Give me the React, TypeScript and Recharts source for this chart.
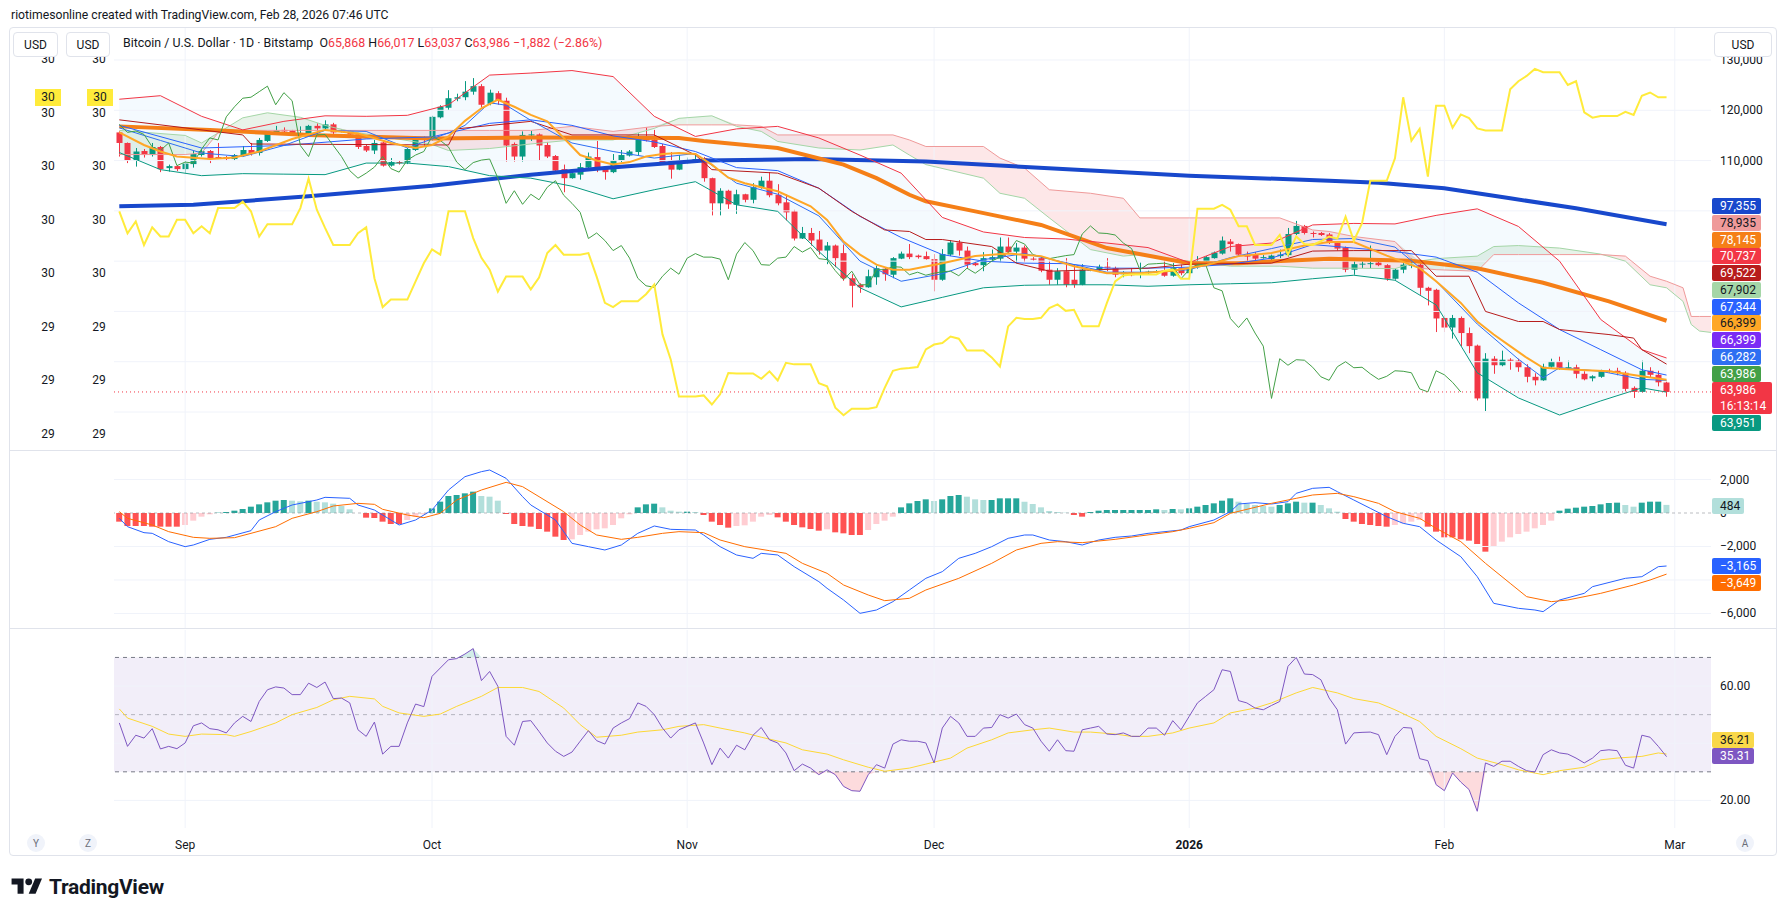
import React from 'react'
import { ComposedChart, Line, Bar, Area, XAxis, YAxis, ReferenceLine, ReferenceArea, Cell } from 'recharts'

// BTC/USD daily, Aug 24 2025 .. Feb 28 2026 (index 0 = Aug 24), prices in thousands USD
const OPEN_K = [
  115.6, 113.5, 110.0, 111.9, 111.1, 112.7, 108.5, 108.9, 108.3, 109.3,
  111.1, 111.9, 110.7, 110.7, 110.3, 111.0, 112.1, 111.5, 113.9, 115.6,
  116.1, 115.9, 115.4, 115.4, 116.9, 116.4, 117.2, 115.8, 115.8, 115.2,
  112.9, 112.0, 113.6, 109.0, 109.7, 109.6, 112.1, 114.5, 114.1, 118.6,
  120.5, 122.3, 122.6, 123.7, 124.8, 121.3, 123.4, 121.9, 113.3, 110.8,
  115.1, 115.2, 113.1, 110.9, 108.3, 106.5, 107.2, 108.6, 110.7, 108.4,
  107.7, 110.0, 111.0, 111.7, 114.7, 114.1, 112.9, 110.1, 108.2, 109.5,
  110.1, 110.5, 106.5, 101.5, 104.0, 101.2, 103.3, 102.2, 104.7, 106.0,
  103.2, 101.7, 99.9, 94.5, 95.6, 94.3, 92.1, 93.1, 91.6, 86.6,
  85.3, 84.8, 86.8, 88.5, 87.3, 90.5, 91.5, 91.1, 91.0, 90.4,
  86.3, 91.3, 93.7, 92.1, 89.6, 89.2, 90.3, 90.5, 92.9, 91.9,
  92.7, 90.5, 90.6, 88.3, 86.3, 88.0, 86.3, 85.3, 88.2, 88.3,
  88.9, 88.6, 87.4, 87.8, 87.3, 87.6, 87.9, 88.1, 87.1, 88.6,
  87.6, 88.8, 90.0, 90.6, 91.5, 93.9, 93.4, 91.3, 91.3, 90.7,
  90.4, 91.0, 91.2, 95.4, 97.0, 95.6, 95.6, 95.3, 93.6, 92.7,
  88.3, 89.4, 89.5, 89.7, 89.2, 86.5, 88.3, 89.2, 89.3, 84.7,
  84.3, 78.7, 76.8, 78.7, 75.7, 73.2, 62.7, 70.6, 69.3, 70.4,
  70.2, 68.9, 67.0, 66.3, 69.0, 70.0, 68.8, 68.9, 67.6, 66.7,
  67.0, 68.2, 68.2, 67.8, 64.8, 64.0, 68.2, 67.4, 65.868,
]
const HIGH_K = [
  115.8, 113.6, 112.5, 112.3, 113.5, 112.9, 109.2, 109.1, 110.0, 111.9,
  112.3, 112.1, 113.5, 110.9, 111.3, 112.9, 113.5, 114.5, 115.9, 116.9,
  116.6, 116.1, 116.8, 117.1, 117.4, 118.0, 117.5, 116.2, 116.0, 115.4,
  113.2, 114.1, 113.8, 110.5, 110.0, 112.5, 114.7, 114.8, 118.9, 121.0,
  124.0, 123.3, 125.8, 126.4, 125.2, 124.1, 123.8, 122.5, 113.6, 115.8,
  115.9, 115.4, 113.7, 111.1, 109.2, 107.7, 109.5, 111.6, 113.9, 108.9,
  111.3, 112.1, 112.1, 115.4, 116.6, 116.1, 113.3, 111.7, 111.1, 110.6,
  111.1, 110.7, 106.6, 104.5, 104.2, 104.2, 103.4, 105.5, 106.8, 107.7,
  105.3, 103.3, 100.2, 96.8, 96.6, 96.0, 93.8, 93.3, 93.3, 87.4,
  85.6, 88.3, 89.1, 88.8, 90.8, 91.9, 93.4, 91.3, 91.9, 91.4,
  92.4, 94.2, 94.2, 92.9, 89.9, 91.8, 92.3, 94.7, 94.7, 93.6,
  93.1, 90.8, 90.8, 90.1, 88.6, 90.6, 89.4, 89.4, 88.5, 89.3,
  90.6, 88.9, 88.0, 88.6, 89.7, 88.1, 88.2, 90.1, 89.6, 89.3,
  89.6, 91.0, 91.0, 91.9, 94.9, 94.4, 93.5, 91.9, 91.8, 91.2,
  91.3, 92.3, 96.6, 98.0, 97.2, 95.9, 95.8, 95.6, 93.8, 92.9,
  90.6, 90.5, 93.1, 89.9, 89.4, 88.6, 89.6, 90.5, 89.5, 84.9,
  84.5, 79.3, 79.3, 79.0, 76.8, 73.4, 71.7, 71.1, 72.2, 70.7,
  70.6, 69.5, 67.7, 69.6, 70.6, 71.0, 70.2, 69.4, 68.1, 67.3,
  68.4, 68.6, 68.8, 68.1, 65.1, 70.2, 68.9, 68.2, 66.017,
]
const LOW_K = [
  110.8, 109.5, 108.8, 110.6, 110.8, 107.7, 107.8, 107.9, 107.5, 108.6,
  110.8, 109.5, 110.3, 110.0, 110.0, 110.8, 111.0, 111.0, 113.7, 115.1,
  115.3, 115.2, 114.6, 115.1, 115.1, 116.1, 115.3, 115.6, 114.9, 112.3,
  111.7, 111.3, 108.8, 108.8, 109.2, 109.3, 111.9, 112.8, 113.9, 118.4,
  120.1, 121.8, 122.0, 123.1, 120.6, 121.0, 121.1, 109.8, 109.8, 109.8,
  113.9, 110.1, 110.5, 107.5, 103.7, 106.4, 106.2, 108.2, 107.7, 106.2,
  107.5, 109.7, 110.8, 111.1, 113.8, 112.5, 109.3, 106.4, 108.1, 109.3,
  109.8, 105.8, 99.1, 99.1, 100.4, 99.4, 101.7, 101.5, 104.4, 102.7,
  101.1, 98.1, 94.1, 94.4, 93.1, 91.3, 89.4, 88.8, 86.1, 80.8,
  83.7, 84.7, 85.3, 86.1, 86.6, 90.4, 90.4, 90.5, 90.3, 84.0,
  86.1, 91.0, 91.1, 88.5, 89.0, 88.0, 90.0, 89.8, 91.6, 89.6,
  89.8, 90.1, 87.8, 85.3, 85.3, 84.8, 84.7, 85.2, 88.0, 87.8,
  88.0, 86.8, 86.8, 87.0, 86.6, 87.4, 87.7, 86.9, 86.9, 87.2,
  87.3, 88.5, 89.6, 90.5, 91.3, 91.9, 90.9, 89.4, 89.6, 90.5,
  90.2, 90.6, 90.9, 95.2, 95.3, 94.7, 95.0, 93.4, 92.1, 87.8,
  87.3, 88.6, 88.6, 89.0, 86.1, 86.3, 87.6, 88.6, 83.3, 81.2,
  75.9, 75.9, 74.6, 73.1, 71.7, 62.3, 60.2, 67.6, 69.1, 68.4,
  68.0, 65.9, 65.3, 66.2, 68.8, 68.4, 68.4, 66.7, 66.3, 66.1,
  66.8, 67.8, 67.3, 64.1, 62.8, 63.9, 66.9, 65.1, 63.037,
]
const CLOSE_K = [
  113.5, 110.0, 111.8, 111.1, 112.7, 108.3, 108.9, 108.3, 109.4, 111.3,
  111.9, 110.5, 110.5, 110.3, 111.1, 112.1, 111.3, 114.1, 115.6, 116.0,
  115.8, 115.4, 115.5, 116.9, 116.4, 117.2, 115.6, 115.9, 115.2, 112.7,
  112.0, 113.5, 109.0, 109.7, 109.5, 112.3, 114.5, 114.1, 118.7, 120.7,
  122.4, 122.6, 123.7, 124.8, 121.1, 123.5, 121.9, 113.0, 110.8, 115.1,
  115.2, 113.0, 110.8, 108.0, 106.5, 107.5, 108.7, 110.8, 108.4, 107.7,
  110.1, 111.1, 111.8, 114.8, 114.0, 112.7, 109.7, 108.2, 109.6, 110.1,
  110.3, 106.5, 101.5, 104.0, 101.3, 103.3, 102.2, 104.7, 106.0, 103.1,
  101.5, 99.7, 94.5, 95.6, 94.1, 92.1, 93.1, 90.6, 86.6, 85.1,
  84.8, 87.0, 88.6, 87.4, 90.6, 91.5, 90.8, 90.8, 90.4, 86.3,
  91.4, 93.7, 92.1, 89.3, 89.2, 90.6, 90.8, 92.9, 91.8, 92.7,
  90.5, 90.3, 88.1, 86.3, 88.0, 85.3, 85.3, 88.3, 88.3, 88.9,
  88.8, 87.3, 87.8, 87.2, 87.6, 87.9, 88.0, 87.1, 88.6, 87.6,
  88.8, 90.0, 90.8, 91.7, 94.1, 93.4, 91.3, 90.9, 90.5, 90.8,
  91.1, 91.3, 95.4, 97.0, 95.6, 95.5, 95.2, 93.6, 92.5, 88.3,
  89.4, 89.5, 89.6, 89.2, 86.5, 88.3, 89.3, 89.3, 84.7, 84.1,
  78.6, 76.8, 78.7, 75.7, 73.1, 62.7, 70.6, 69.3, 70.4, 70.3,
  68.9, 67.0, 66.3, 69.0, 70.0, 68.8, 68.9, 67.6, 66.5, 67.1,
  68.2, 68.1, 67.8, 64.6, 64.0, 68.2, 67.4, 65.9, 63.986,
]

// second series drawn on the left scale
const YELLOW = [
  29.616, 29.575, 29.597, 29.553, 29.586, 29.569, 29.569, 29.6, 29.6, 29.575,
  29.588, 29.575, 29.622, 29.622, 29.622, 29.634, 29.616, 29.569, 29.592, 29.592,
  29.592, 29.592, 29.622, 29.677, 29.619, 29.585, 29.553, 29.553, 29.553, 29.575,
  29.586, 29.491, 29.437, 29.451, 29.451, 29.451, 29.485, 29.519, 29.545, 29.535,
  29.616, 29.616, 29.616, 29.566, 29.529, 29.507, 29.466, 29.494, 29.494, 29.494,
  29.47, 29.492, 29.538, 29.553, 29.535, 29.535, 29.535, 29.538, 29.494, 29.445,
  29.437, 29.448, 29.448, 29.448, 29.461, 29.479, 29.386, 29.339, 29.27, 29.27,
  29.27, 29.272, 29.255, 29.274, 29.314, 29.313, 29.313, 29.313, 29.303, 29.317,
  29.3, 29.333, 29.33, 29.33, 29.33, 29.295, 29.289, 29.249, 29.235, 29.247,
  29.247, 29.247, 29.25, 29.286, 29.318, 29.322, 29.323, 29.325, 29.358, 29.367,
  29.37, 29.382, 29.378, 29.356, 29.356, 29.356, 29.343, 29.326, 29.401, 29.417,
  29.415, 29.415, 29.417, 29.435, 29.442, 29.43, 29.432, 29.401, 29.401, 29.401,
  29.445, 29.485, 29.496, 29.498, 29.498, 29.498, 29.498, 29.505, 29.507, 29.49,
  29.49, 29.621, 29.621, 29.621, 29.628, 29.619, 29.588, 29.588, 29.553, 29.553,
  29.553, 29.572, 29.535, 29.569, 29.555, 29.553, 29.56, 29.569, 29.565, 29.606,
  29.561, 29.594, 29.673, 29.673, 29.673, 29.715, 29.829, 29.748, 29.77, 29.681,
  29.813, 29.813, 29.772, 29.797, 29.79, 29.771, 29.767, 29.767, 29.767, 29.844,
  29.859, 29.869, 29.882, 29.876, 29.876, 29.876, 29.852, 29.859, 29.801, 29.791,
  29.794, 29.794, 29.794, 29.802, 29.796, 29.832, 29.838, 29.829, 29.829,
]

// Bollinger bands (k USD)
const BB_DAYS = [0, 5, 10, 15, 20, 25, 30, 35, 40, 45, 50, 55, 60, 65, 70, 75, 80, 85, 90, 95, 100, 105, 110, 115, 120, 125, 130, 135, 140, 145, 150, 155, 160, 165, 170, 175, 180, 185, 188]
const BB_UPPER_K = [122.2, 122.9, 118.8, 116.1, 117.8, 118.9, 118.8, 119.0, 121.1, 127.0, 127.4, 127.9, 126.7, 118.8, 114.8, 116.3, 116.8, 114.5, 111.1, 107.5, 98.7, 95.8, 94.7, 94.4, 93.6, 92.7, 89.7, 92.9, 93.6, 97.2, 97.5, 97.4, 99.1, 100.4, 96.9, 90.0, 78.4, 72.4, 70.737]
const BB_LOWER_K = [111.6, 108.2, 107.0, 107.4, 107.3, 107.2, 109.5, 109.5, 108.8, 107.0, 106.5, 104.9, 102.4, 104.2, 105.8, 101.2, 99.9, 91.9, 84.7, 80.9, 82.8, 84.7, 85.2, 85.3, 85.3, 85.0, 85.3, 85.5, 85.7, 86.5, 87.2, 86.2, 81.3, 67.8, 62.8, 59.4, 62.2, 64.8, 63.951]
const BASIS_DAYS = [0, 10, 20, 30, 38, 45, 50, 55, 60, 65, 70, 75, 80, 85, 90, 95, 100, 105, 110, 115, 120, 125, 130, 135, 140, 145, 150, 155, 160, 165, 170, 175, 180, 185, 188]
const BASIS_K = [117.0, 112.5, 113.0, 114.3, 114.7, 117.4, 118.1, 117.0, 114.9, 113.7, 111.8, 108.6, 108.0, 104.5, 98.9, 94.7, 91.3, 90.0, 89.6, 89.5, 88.6, 88.6, 88.8, 89.4, 90.6, 93.3, 92.6, 91.9, 90.8, 87.8, 81.7, 76.4, 72.4, 68.4, 67.344]

// Ichimoku
const TENKAN_DAYS = [0, 5, 10, 15, 20, 25, 30, 35, 40, 42, 45, 47, 50, 55, 60, 65, 70, 75, 80, 85, 90, 95, 100, 105, 110, 115, 120, 125, 130, 135, 140, 145, 150, 155, 160, 165, 170, 173, 175, 180, 185, 188]
const TENKAN_K = [116.5, 114.0, 111.5, 110.8, 113.0, 116.0, 115.8, 112.5, 115.5, 117.0, 121.5, 121.0, 118.0, 113.5, 111.8, 110.5, 111.4, 105.5, 103.3, 99.0, 90.0, 86.0, 87.5, 90.3, 91.5, 89.7, 87.8, 87.8, 88.3, 90.7, 92.5, 94.3, 94.5, 92.8, 86.0, 77.5, 70.5, 66.8, 68.8, 68.1, 66.5, 66.282]
const KIJUN_DAYS = [0, 15, 16, 40, 41, 50, 55, 65, 70, 72, 80, 85, 89, 93, 96, 98, 100, 106, 109, 113, 125, 130, 140, 145, 150, 157, 160, 164, 166, 170, 173, 175, 181, 184, 185, 188]
const KIJUN_K = [118.1, 115.1, 113.3, 113.1, 116.3, 117.8, 115.1, 115.1, 111.1, 108.2, 107.5, 104.5, 99.9, 96.2, 95.9, 94.3, 94.3, 92.9, 89.6, 88.0, 88.6, 89.4, 89.6, 92.0, 92.1, 92.1, 87.0, 87.0, 80.0, 78.0, 78.0, 76.4, 75.4, 74.7, 72.4, 69.522]
const SPAN_DAYS = [0, 8, 10, 12, 15, 18, 22, 25, 28, 38, 40, 45, 50, 55, 60, 65, 68, 72, 75, 78, 80, 85, 90, 94, 96, 98, 105, 107, 110, 113, 118, 122, 124, 130, 135, 141, 145, 147, 150, 155, 158, 160, 165, 167, 170, 175, 180, 183, 186, 188, 190, 191, 192, 194, 213]
const SPAN_A_K = [116.0, 115.0, 113.5, 115.5, 118.5, 119.5, 118.6, 117.0, 115.8, 113.2, 112.0, 112.4, 113.3, 114.1, 114.1, 116.4, 118.4, 118.9, 116.8, 115.8, 113.8, 112.5, 112.1, 113.1, 111.1, 109.2, 106.5, 103.5, 102.5, 98.6, 92.3, 91.0, 91.3, 90.0, 89.0, 89.0, 88.6, 88.6, 88.6, 88.5, 90.0, 90.5, 91.0, 92.9, 93.1, 92.6, 91.4, 90.0, 85.3, 84.7, 82.0, 77.4, 76.1, 75.7, 67.902]
const SPAN_B_K = [111.2, 111.2, 111.5, 115.5, 116.0, 116.0, 116.0, 116.0, 116.0, 116.0, 116.0, 116.0, 116.0, 116.8, 115.8, 116.8, 117.1, 117.1, 117.1, 116.8, 115.1, 115.1, 115.1, 115.1, 114.1, 112.8, 112.8, 110.5, 108.5, 104.2, 103.5, 102.5, 98.6, 98.6, 98.6, 98.6, 96.2, 95.9, 94.9, 93.9, 88.6, 88.3, 88.0, 91.3, 91.3, 91.3, 91.3, 91.0, 87.0, 86.0, 84.7, 79.0, 79.0, 79.0, 78.935]
const LAG_SHIFT = 25

// moving averages
const MA200_DAYS = [0, 9, 23, 38, 50, 59, 71, 84, 98, 130, 147, 153, 161, 169, 177, 188]
const MA200_K = [100.9, 101.2, 102.9, 105.0, 107.2, 108.5, 110.0, 110.3, 109.8, 107.0, 106.0, 105.6, 104.5, 102.5, 100.5, 97.355]
const MA50_DAYS = [0, 11, 23, 38, 50, 68, 71, 80, 88, 92, 96, 98, 104, 112, 120, 130, 136, 147, 157, 165, 173, 181, 188]
const MA50_K = [116.8, 116.1, 115.1, 114.4, 114.6, 114.5, 113.9, 112.5, 109.2, 106.5, 103.2, 101.9, 99.9, 97.2, 92.6, 89.6, 89.6, 90.5, 90.1, 88.6, 85.7, 82.0, 78.145]
const EMA_DAYS = [0, 3, 5, 7, 11, 14, 17, 21, 25, 29, 33, 36, 38, 40, 42, 44, 46, 48, 50, 52, 54, 56, 58, 60, 62, 64, 66, 68, 70, 72, 74, 76, 80, 84, 86, 88, 90, 92, 94, 96, 100, 104, 108, 112, 116, 120, 124, 128, 132, 136, 140, 144, 147, 150, 154, 158, 160, 163, 165, 167, 169, 171, 173, 177, 181, 185, 188]
const EMA_K = [115.6, 113.1, 111.8, 110.8, 110.3, 110.6, 111.8, 114.3, 116.1, 115.4, 113.5, 112.5, 113.1, 114.8, 117.9, 120.4, 122.1, 120.7, 119.1, 117.8, 114.5, 111.1, 110.0, 109.2, 109.7, 110.8, 111.3, 111.5, 111.3, 109.2, 106.6, 105.5, 103.9, 100.9, 98.2, 93.9, 91.3, 89.3, 88.3, 88.3, 89.6, 91.0, 91.5, 91.0, 89.0, 87.6, 87.6, 88.1, 89.2, 91.0, 91.6, 93.1, 93.8, 93.8, 91.1, 88.6, 86.0, 81.7, 78.0, 75.4, 73.1, 70.8, 68.8, 68.4, 68.1, 67.1, 66.399]

// MACD (12, 26, 9)
const MACD_HIST = [
  -517, -776, -776, -776, -816, -816, -816, -816, -716, -458,
  -219, -80, 20, 60, 139, 239, 378, 517, 637, 736,
  776, 736, 697, 736, 677, 637, 557, 418, 219, 0,
  -279, -299, -517, -657, -657, -418, -219, -80, 279, 677,
  1015, 1075, 1174, 1274, 1015, 975, 736, -60, -657, -776,
  -816, -955, -1114, -1413, -1612, -1572, -1313, -1114, -975, -915,
  -716, -318, -80, 338, 517, 557, 338, 139, 80, 80,
  60, -119, -517, -716, -876, -776, -736, -517, -219, -119,
  -259, -517, -716, -856, -955, -1055, -975, -1154, -1214, -1313,
  -1313, -1015, -657, -458, -219, 338, 577, 716, 816, 716,
  816, 1015, 1075, 975, 816, 776, 776, 876, 876, 876,
  677, 537, 338, 119, 60, 20, -119, -219, 60, 139,
  179, 179, 179, 179, 179, 179, 219, 179, 239, 219,
  279, 378, 478, 577, 736, 876, 677, 537, 478, 418,
  378, 478, 577, 677, 617, 617, 478, 279, 80, -358,
  -517, -657, -716, -776, -816, -716, -617, -517, -418, -816,
  -1114, -1453, -1453, -1572, -1652, -1851, -2308, -2010, -1711, -1453,
  -1254, -1114, -915, -716, -458, 139, 259, 318, 378, 418,
  517, 597, 617, 478, 378, 617, 677, 677, 484,
]
const MACD_DAYS = [0, 1, 3, 4, 6, 8, 9, 11, 13, 16, 17, 19, 21, 24, 25, 28, 29, 31, 33, 34, 36, 38, 40, 42, 44, 45, 47, 49, 50, 53, 55, 57, 59, 61, 63, 65, 67, 70, 71, 73, 75, 77, 78, 80, 82, 85, 86, 88, 90, 92, 94, 96, 98, 100, 102, 104, 106, 108, 110, 111, 113, 115, 117, 119, 121, 123, 125, 129, 130, 133, 135, 136, 138, 140, 142, 143, 145, 147, 148, 150, 152, 154, 156, 158, 160, 163, 165, 167, 170, 172, 173, 175, 178, 179, 183, 185, 187, 188]
const MACD_LINE = [-320, -816, -1174, -1214, -1711, -2010, -1910, -1572, -1453, -1055, -418, 80, 478, 776, 935, 876, 478, 179, -418, -716, -418, 179, 1373, 2169, 2468, 2567, 2070, 975, 478, -418, -1811, -2010, -2209, -1910, -1214, -776, -975, -1015, -1313, -2010, -2507, -2706, -2408, -2507, -3204, -4099, -4497, -5194, -5990, -5791, -5293, -4597, -3900, -3502, -2706, -2408, -2010, -1512, -1313, -1313, -1612, -1711, -1910, -1612, -1453, -1373, -1214, -1015, -816, -418, 80, 537, 617, 537, 677, 1174, 1473, 1532, 1274, 776, 279, -219, -617, -816, -1612, -2607, -3801, -5393, -5691, -5791, -5890, -5194, -4796, -4398, -3900, -3801, -3204, -3165]
const SIGNAL_DAYS = [0, 1, 4, 6, 9, 11, 14, 16, 19, 21, 24, 26, 29, 31, 32, 35, 37, 39, 41, 44, 47, 49, 51, 54, 56, 58, 61, 63, 66, 68, 71, 73, 76, 79, 81, 83, 86, 88, 91, 93, 96, 98, 102, 106, 109, 112, 114, 117, 121, 124, 128, 130, 133, 135, 138, 140, 143, 145, 148, 150, 153, 155, 158, 160, 163, 166, 169, 171, 174, 176, 180, 184, 186, 188]
const SIGNAL_LINE = [80, -318, -716, -1114, -1453, -1512, -1473, -1214, -816, -318, 80, 418, 577, 517, 219, -119, -279, -20, 776, 1373, 1831, 1572, 975, 80, -716, -1313, -1572, -1453, -1214, -1114, -1174, -1612, -2010, -2249, -2408, -3005, -3602, -4298, -4895, -5234, -5094, -4597, -3900, -3005, -2209, -1811, -1711, -1771, -1572, -1373, -1114, -915, -577, -20, 338, 577, 876, 1075, 1174, 975, 577, 80, -318, -915, -1711, -3005, -4199, -4995, -5293, -5194, -4796, -4298, -4000, -3649]

// RSI (14) and its moving average
const RSI = [
  47.1, 38.9, 42.8, 41.8, 45.1, 38.0, 38.9, 38.1, 40.1, 46.1,
  47.1, 45.1, 44.7, 43.6, 47.1, 49.4, 47.6, 54.6, 58.7, 59.7,
  59.3, 57.0, 57.0, 61.0, 59.5, 61.4, 55.6, 55.8, 54.1, 44.7,
  42.4, 47.4, 36.2, 38.9, 38.9, 47.1, 53.7, 52.8, 63.4, 66.3,
  69.2, 69.6, 71.2, 73.1, 61.9, 65.1, 59.9, 42.4, 39.3, 47.6,
  47.9, 44.1, 40.1, 37.2, 35.4, 36.9, 40.7, 44.4, 40.9, 39.7,
  45.3, 47.1, 48.6, 54.1, 52.9, 50.0, 45.3, 41.8, 44.7, 45.9,
  47.1, 40.1, 32.5, 38.3, 34.8, 39.3, 37.7, 42.8, 45.5, 41.2,
  40.1, 36.6, 30.4, 32.7, 31.3, 29.0, 30.7, 29.0, 24.9, 23.4,
  23.2, 29.0, 32.5, 31.3, 39.7, 41.2, 40.7, 40.7, 40.1, 33.1,
  45.3, 49.4, 47.1, 42.4, 42.4, 45.3, 45.5, 50.0, 48.8, 50.2,
  46.5, 45.3, 40.7, 37.2, 41.2, 37.4, 37.2, 44.7, 45.3, 45.9,
  43.2, 43.0, 43.6, 42.4, 42.4, 45.3, 45.3, 42.8, 47.9, 44.7,
  49.4, 54.1, 56.4, 58.7, 65.7, 65.1, 54.9, 54.1, 52.3, 51.7,
  53.2, 54.6, 66.9, 70.0, 64.2, 64.0, 62.2, 55.8, 51.7, 39.7,
  43.6, 43.8, 43.9, 43.0, 36.0, 42.4, 45.5, 45.3, 34.6, 33.9,
  25.5, 23.4, 29.6, 26.4, 23.8, 16.2, 33.1, 31.9, 33.7, 33.7,
  31.9, 30.4, 29.9, 36.0, 37.7, 36.6, 36.2, 34.8, 33.1, 34.8,
  37.4, 37.7, 37.4, 32.3, 31.3, 42.8, 42.1, 38.9, 35.31,
]
const RSI_MA_DAYS = [0, 1, 4, 6, 8, 10, 13, 14, 16, 19, 21, 24, 26, 28, 31, 32, 34, 37, 39, 41, 44, 46, 49, 51, 54, 56, 58, 61, 63, 66, 68, 71, 73, 76, 78, 81, 83, 86, 88, 91, 93, 96, 98, 101, 103, 106, 108, 111, 113, 116, 118, 121, 123, 125, 128, 130, 133, 135, 138, 140, 143, 145, 148, 150, 153, 155, 158, 160, 163, 165, 168, 170, 173, 175, 178, 180, 182, 185, 187, 188]
const RSI_MA = [52.0, 48.8, 45.9, 43.2, 42.4, 43.2, 43.0, 42.4, 44.1, 47.1, 50.0, 52.5, 55.2, 56.4, 55.5, 52.9, 50.6, 49.4, 50.2, 52.9, 56.4, 59.5, 59.5, 58.1, 52.3, 46.5, 42.1, 42.8, 43.9, 44.7, 45.9, 46.5, 45.3, 43.6, 42.1, 40.1, 37.7, 36.2, 34.2, 31.6, 30.2, 31.3, 32.7, 34.8, 38.3, 41.2, 43.6, 44.7, 45.3, 43.9, 43.9, 43.2, 42.4, 42.4, 43.6, 45.3, 47.1, 50.6, 52.3, 54.1, 57.6, 59.5, 57.6, 55.6, 54.1, 51.7, 47.6, 42.4, 38.1, 34.8, 32.5, 30.7, 29.0, 30.4, 31.6, 34.2, 34.8, 35.4, 36.6, 36.21]

// axes
const MONTH_TICKS = [8, 38, 69, 99, 130, 161, 189]
const MONTH_LABELS = ['Sep', 'Oct', 'Nov', 'Dec', '2026', 'Feb', 'Mar']
const PRICE_GRID = [60000, 70000, 80000, 90000, 100000, 110000, 120000, 130000]
const PRICE_LABELED = [110000, 120000, 130000]
const LEFT_TICKS = [29.2, 29.3, 29.4, 29.5, 29.6, 29.7, 29.8, 29.9]
const MACD_GRID = [2000, -2000, -4000, -6000]
const MACD_LABELED = [2000, 0, -2000, -6000]
const RSI_GRID = [60, 40, 20]
const RSI_LABELED = [60, 20]

const X_DOMAIN: [number, number] = [-0.644, 193.4]
const PRICE_DOMAIN: [number, number] = [52444, 136363]
const LEFT_DOMAIN: [number, number] = [29.17, 29.9585]
const MACD_DOMAIN: [number, number] = [-6866, 3642]
const RSI_DOMAIN: [number, number] = [10.35, 79.6]

const FONT = 'Roboto, "Noto Sans", Arial, sans-serif'
const TEXT = '#131722'
const GRID = '#f0f3fa'
const UP = '#089981'
const DOWN = '#f23645'

const k = (v: number) => Math.round(v * 1000)
const series = (days: number[], vals: number[], scale = 1) => days.map((d, i) => ({ d, v: vals[i] * scale }))

const candles = CLOSE_K.map((c, i) => ({
  d: i,
  o: k(OPEN_K[i]),
  h: k(HIGH_K[i]),
  l: k(LOW_K[i]),
  c: k(c),
  range: [k(LOW_K[i]), k(HIGH_K[i])],
}))
const lastClose = candles[candles.length - 1].c

const bbRows = BB_DAYS.map((d, i) => ({ d, up: k(BB_UPPER_K[i]), lo: k(BB_LOWER_K[i]), band: [k(BB_LOWER_K[i]), k(BB_UPPER_K[i])] }))
const cloudRows = SPAN_DAYS.map((d, i) => {
  const a = k(SPAN_A_K[i])
  const b = k(SPAN_B_K[i])
  const top = Math.max(a, b)
  return { d, a, b, green: [b, top], pink: [a, top] }
})
const lagging = CLOSE_K.slice(LAG_SHIFT).map((c, i) => ({ d: i, v: k(c) }))
const yellowRows = YELLOW.map((v, i) => ({ d: i, v }))
const histRows = MACD_HIST.map((v, i) => ({ d: i, v }))
const rsiRows = RSI.map((v, i) => ({ d: i, v, os: [Math.min(v, 30), 30], ob: [70, Math.max(v, 70)] }))

const histColor = (i: number) => {
  const v = MACD_HIST[i]
  const prev = i > 0 ? MACD_HIST[i - 1] : v
  if (v >= 0) return v >= prev ? '#26a69a' : '#b2dfdb'
  return v <= prev ? '#ff5252' : '#ffcdd2'
}

const fmtSigned = (v: number) => (v < 0 ? '\u2212' : '') + Math.abs(v).toLocaleString('en-US')

function Candle(props: any) {
  const { x, y, width, height, payload } = props
  if (!payload || x == null) return null
  const { o, h, l, c } = payload
  const color = c >= o ? UP : DOWN
  const top = Math.min(y, y + height)
  const px = Math.abs(height)
  const ratio = h > l ? px / (h - l) : 0
  const yOf = (v: number) => top + (h - v) * ratio
  const cx = Math.round(x + width / 2) + 0.5
  const bTop = yOf(Math.max(o, c))
  const bBot = yOf(Math.min(o, c))
  return (
    <g>
      <line x1={cx} x2={cx} y1={top} y2={top + px} stroke={color} strokeWidth={1} />
      <rect x={cx - 3} y={bTop} width={6} height={Math.max(1, bBot - bTop)} fill={color} />
    </g>
  )
}

const LeftTick = (p: any) => {
  const label = String(Math.round(p.payload.value))
  return (
    <g>
      <text x={48} y={p.y} textAnchor="middle" dominantBaseline="central" fontSize={12} fill={TEXT} fontFamily={FONT}>{label}</text>
      <text x={99} y={p.y} textAnchor="middle" dominantBaseline="central" fontSize={12} fill={TEXT} fontFamily={FONT}>{label}</text>
    </g>
  )
}

const rightTick = (fmt: (v: number) => string) => (p: any) => (
  <text x={1720} y={p.y} textAnchor="start" dominantBaseline="central" fontSize={12} fill={TEXT} fontFamily={FONT}>
    {fmt(p.payload.value)}
  </text>
)

const TimeTick = (p: any) => {
  const idx = MONTH_TICKS.indexOf(p.payload.value)
  const label = MONTH_LABELS[idx]
  return (
    <text x={p.x} y={p.y + 15} textAnchor="middle" dominantBaseline="central" fontSize={12} fill={TEXT} fontFamily={FONT} fontWeight={label === '2026' ? 700 : 400}>
      {label}
    </text>
  )
}

const monthLines = (axis: string) =>
  MONTH_TICKS.map((d) => <ReferenceLine key={'m' + d} yAxisId={axis} x={d} stroke={GRID} strokeWidth={1} />)

type Tag = { v: string; bg: string; fg: string; sub?: string; w?: number }
const PRICE_TAGS: Tag[] = [
  { v: '97,355', bg: '#1848cc', fg: '#fff' },
  { v: '78,935', bg: '#ef9a9a', fg: TEXT },
  { v: '78,145', bg: '#f57f17', fg: '#fff' },
  { v: '70,737', bg: '#f23645', fg: '#fff' },
  { v: '69,522', bg: '#b71c1c', fg: '#fff' },
  { v: '67,902', bg: '#a5d6a7', fg: TEXT },
  { v: '67,344', bg: '#2962ff', fg: '#fff' },
  { v: '66,399', bg: '#ffa726', fg: TEXT },
  { v: '66,399', bg: '#7b2cf5', fg: '#fff' },
  { v: '66,282', bg: '#2e6ff2', fg: '#fff' },
  { v: '63,986', bg: '#43a047', fg: '#fff' },
  { v: '63,986', sub: '16:13:14', bg: '#f23645', fg: '#fff', w: 60 },
  { v: '63,951', bg: '#089981', fg: '#fff' },
]

function TagBox({ t, top, left = 1712, width = 49 }: { t: Tag; top: number; left?: number; width?: number }) {
  const h = t.sub ? 32 : 16
  return (
    <div
      style={{
        position: 'absolute', left, top, width: t.w ?? width, height: h, background: t.bg, color: t.fg,
        fontSize: 12, lineHeight: '16px', paddingLeft: 8, boxSizing: 'border-box', borderRadius: 2, fontFamily: FONT,
      }}
    >
      <div>{t.v}</div>
      {t.sub && <div>{t.sub}</div>}
    </div>
  )
}

function UsdBox({ left, width }: { left: number; width: number }) {
  return (
    <div
      style={{
        position: 'absolute', left, top: 32, width, height: 25, border: '1px solid #e0e3eb', borderRadius: 4,
        boxSizing: 'border-box', background: '#fff', fontSize: 12, color: TEXT, display: 'flex',
        alignItems: 'center', justifyContent: 'center', fontFamily: FONT,
      }}
    >
      USD
    </div>
  )
}

function Round({ x, label }: { x: number; label: string }) {
  return (
    <div
      style={{
        position: 'absolute', left: x - 9, top: 834, width: 18, height: 18, borderRadius: 9, background: '#f0f3fa',
        color: '#6a6d78', fontSize: 10, display: 'flex', alignItems: 'center', justifyContent: 'center',
      }}
    >
      {label}
    </div>
  )
}

export default function App() {
  let acc = 198
  const priceTagTops = PRICE_TAGS.map((t) => {
    const top = acc
    acc += (t.sub ? 32 : 16) + 0.75
    return top
  })

  const red = { color: DOWN }
  return (
    <div style={{ position: 'fixed', left: 0, top: 0, width: 1787, height: 917, background: '#fff', fontFamily: FONT, color: TEXT, overflow: 'hidden' }}>
      <div style={{ position: 'absolute', left: 11, top: 6, fontSize: 12.2, lineHeight: '18px' }}>
        riotimesonline created with TradingView.com, Feb 28, 2026 07:46 UTC
      </div>

      <div style={{ position: 'absolute', left: 9, top: 27, width: 1768, height: 829, border: '1px solid #e0e3eb', borderRadius: 4, boxSizing: 'border-box' }} />

      {/* price pane */}
      <div style={{ position: 'absolute', left: 0, top: 28 }}>
        <ComposedChart width={1787} height={422} data={candles} margin={{ top: 0, right: 10, bottom: 0, left: 10 }}>
          <XAxis type="number" dataKey="d" domain={X_DOMAIN} allowDataOverflow hide />
          <YAxis yAxisId="yl" orientation="left" width={104} domain={LEFT_DOMAIN} ticks={LEFT_TICKS} allowDataOverflow axisLine={false} tickLine={false} tickSize={0} tick={LeftTick} />
          <YAxis yAxisId="price" orientation="right" width={66} domain={PRICE_DOMAIN} ticks={PRICE_LABELED} allowDataOverflow axisLine={false} tickLine={false} tickSize={0} tick={rightTick((v) => v.toLocaleString('en-US'))} />
          {PRICE_GRID.map((v) => <ReferenceLine key={'g' + v} yAxisId="price" y={v} stroke={GRID} />)}
          {monthLines('price')}

          <Area yAxisId="price" data={bbRows} dataKey="band" fill="#2196f3" fillOpacity={0.05} stroke="none" isAnimationActive={false} />
          <Area yAxisId="price" data={cloudRows} dataKey="green" fill="#43a047" fillOpacity={0.12} stroke="none" isAnimationActive={false} />
          <Area yAxisId="price" data={cloudRows} dataKey="pink" fill="#f23645" fillOpacity={0.12} stroke="none" isAnimationActive={false} />
          <Line yAxisId="price" data={cloudRows} dataKey="a" stroke="#a5d6a7" strokeWidth={1} dot={false} isAnimationActive={false} />
          <Line yAxisId="price" data={cloudRows} dataKey="b" stroke="#ef9a9a" strokeWidth={1} dot={false} isAnimationActive={false} />

          <Line yAxisId="price" data={series(MA200_DAYS, MA200_K, 1000)} dataKey="v" stroke="#1848cc" strokeWidth={4} dot={false} isAnimationActive={false} />
          <Line yAxisId="price" data={series(MA50_DAYS, MA50_K, 1000)} dataKey="v" stroke="#f57f17" strokeWidth={4} dot={false} isAnimationActive={false} />

          <Bar yAxisId="price" dataKey="range" barSize={6} shape={Candle} isAnimationActive={false} />

          <Line yAxisId="price" data={bbRows} dataKey="up" stroke="#f23645" strokeWidth={1} dot={false} isAnimationActive={false} />
          <Line yAxisId="price" data={bbRows} dataKey="lo" stroke="#089981" strokeWidth={1} dot={false} isAnimationActive={false} />
          <Line yAxisId="price" data={series(BASIS_DAYS, BASIS_K, 1000)} dataKey="v" stroke="#2962ff" strokeWidth={1} dot={false} isAnimationActive={false} />
          <Line yAxisId="price" data={series(KIJUN_DAYS, KIJUN_K, 1000)} dataKey="v" stroke="#b71c1c" strokeWidth={1} dot={false} isAnimationActive={false} />
          <Line yAxisId="price" data={series(TENKAN_DAYS, TENKAN_K, 1000)} dataKey="v" stroke="#2e6ff2" strokeWidth={1} dot={false} isAnimationActive={false} />
          <Line yAxisId="price" data={lagging} dataKey="v" stroke="#43a047" strokeWidth={1} dot={false} isAnimationActive={false} />
          <Line yAxisId="price" data={series(EMA_DAYS, EMA_K, 1000)} dataKey="v" stroke="#ffa726" strokeWidth={2} dot={false} isAnimationActive={false} />
          <ReferenceLine yAxisId="price" y={lastClose} stroke={DOWN} strokeDasharray="1 3" />

          <Line yAxisId="yl" data={yellowRows} dataKey="v" stroke="#ffeb3b" strokeWidth={2} dot={false} isAnimationActive={false} />
        </ComposedChart>
      </div>

      <div style={{ position: 'absolute', left: 10, top: 450, width: 1766, height: 1, background: '#e0e3eb' }} />

      {/* MACD pane */}
      <div style={{ position: 'absolute', left: 0, top: 452 }}>
        <ComposedChart width={1787} height={176} data={histRows} margin={{ top: 0, right: 10, bottom: 0, left: 114 }}>
          <XAxis type="number" dataKey="d" domain={X_DOMAIN} allowDataOverflow hide />
          <YAxis yAxisId="m" orientation="right" width={66} domain={MACD_DOMAIN} ticks={MACD_LABELED} allowDataOverflow axisLine={false} tickLine={false} tickSize={0} tick={rightTick(fmtSigned)} />
          {MACD_GRID.map((v) => <ReferenceLine key={'g' + v} yAxisId="m" y={v} stroke={GRID} />)}
          {monthLines('m')}
          <ReferenceLine yAxisId="m" y={0} stroke="#787b86" strokeOpacity={0.5} strokeDasharray="3 3" />
          <Bar yAxisId="m" dataKey="v" barSize={6} isAnimationActive={false}>
            {histRows.map((r, i) => <Cell key={i} fill={histColor(i)} />)}
          </Bar>
          <Line yAxisId="m" data={series(MACD_DAYS, MACD_LINE)} dataKey="v" stroke="#2962ff" strokeWidth={1} dot={false} isAnimationActive={false} />
          <Line yAxisId="m" data={series(SIGNAL_DAYS, SIGNAL_LINE)} dataKey="v" stroke="#ff6d00" strokeWidth={1} dot={false} isAnimationActive={false} />
        </ComposedChart>
      </div>

      <div style={{ position: 'absolute', left: 10, top: 628, width: 1766, height: 1, background: '#e0e3eb' }} />

      {/* RSI pane + time axis */}
      <div style={{ position: 'absolute', left: 0, top: 630 }}>
        <ComposedChart width={1787} height={226} data={rsiRows} margin={{ top: 0, right: 10, bottom: 0, left: 114 }}>
          <XAxis type="number" dataKey="d" domain={X_DOMAIN} allowDataOverflow ticks={MONTH_TICKS} height={28} axisLine={false} tickLine={false} tickSize={0} tick={TimeTick} interval={0} />
          <YAxis yAxisId="r" orientation="right" width={66} domain={RSI_DOMAIN} ticks={RSI_LABELED} allowDataOverflow axisLine={false} tickLine={false} tickSize={0} tick={rightTick((v) => v.toFixed(2))} />
          {RSI_GRID.map((v) => <ReferenceLine key={'g' + v} yAxisId="r" y={v} stroke={GRID} />)}
          {monthLines('r')}
          <ReferenceArea yAxisId="r" y1={30} y2={70} fill="#7e57c2" fillOpacity={0.1} stroke="none" />
          <ReferenceLine yAxisId="r" y={70} stroke="#787b86" strokeDasharray="4 4" />
          <ReferenceLine yAxisId="r" y={50} stroke="#787b86" strokeOpacity={0.5} strokeDasharray="4 4" />
          <ReferenceLine yAxisId="r" y={30} stroke="#787b86" strokeDasharray="4 4" />
          <Area yAxisId="r" dataKey="os" fill="#f23645" fillOpacity={0.18} stroke="none" isAnimationActive={false} />
          <Area yAxisId="r" dataKey="ob" fill="#089981" fillOpacity={0.18} stroke="none" isAnimationActive={false} />
          <Line yAxisId="r" data={series(RSI_MA_DAYS, RSI_MA)} dataKey="v" stroke="#fdd835" strokeWidth={1} dot={false} isAnimationActive={false} />
          <Line yAxisId="r" dataKey="v" stroke="#7e57c2" strokeWidth={1} dot={false} isAnimationActive={false} />
        </ComposedChart>
      </div>

      {/* legend row */}
      <UsdBox left={13} width={45} />
      <UsdBox left={66} width={44} />
      <UsdBox left={1714} width={58} />
      <div style={{ position: 'absolute', left: 123, top: 35, fontSize: 12.4, lineHeight: '16px', whiteSpace: 'pre' }}>
        <span>Bitcoin / U.S. Dollar · 1D · Bitstamp  </span>
        <span>O</span><span style={red}>65,868 </span>
        <span>H</span><span style={red}>66,017 </span>
        <span>L</span><span style={red}>63,037 </span>
        <span>C</span><span style={red}>63,986 </span>
        <span style={red}>{'\u22121,882 (\u22122.86%)'}</span>
      </div>

      {/* last-value tags */}
      <div style={{ position: 'absolute', left: 35, top: 89, width: 26, height: 17, background: '#ffeb3b', fontSize: 12, textAlign: 'center', lineHeight: '17px' }}>30</div>
      <div style={{ position: 'absolute', left: 87, top: 89, width: 26, height: 17, background: '#ffeb3b', fontSize: 12, textAlign: 'center', lineHeight: '17px' }}>30</div>
      {PRICE_TAGS.map((t, i) => <TagBox key={i} t={t} top={priceTagTops[i]} />)}
      <TagBox t={{ v: '484', bg: '#b2dfdb', fg: TEXT }} top={497.5} width={32} />
      <TagBox t={{ v: '\u22123,165', bg: '#2962ff', fg: '#fff' }} top={558} />
      <TagBox t={{ v: '\u22123,649', bg: '#ff6d00', fg: '#fff' }} top={575} />
      <TagBox t={{ v: '36.21', bg: '#f9d849', fg: TEXT }} top={731.5} width={42} />
      <TagBox t={{ v: '35.31', bg: '#7e57c2', fg: '#fff' }} top={748} width={42} />

      <Round x={36} label="Y" />
      <Round x={88} label="Z" />
      <Round x={1745} label="A" />

      <div style={{ position: 'absolute', left: 11, top: 875, display: 'flex', alignItems: 'center', gap: 6 }}>
        <svg width={32} height={24} viewBox="0 0 36 28">
          <path d="M14 22H7V11H0V4h14v18Z" fill={TEXT} />
          <path d="M28 22h-8l7.5-18h8L28 22Z" fill={TEXT} />
          <circle cx={20} cy={8} r={4} fill={TEXT} />
        </svg>
        <span style={{ fontSize: 21, fontWeight: 700, letterSpacing: -0.3 }}>TradingView</span>
      </div>
    </div>
  )
}
